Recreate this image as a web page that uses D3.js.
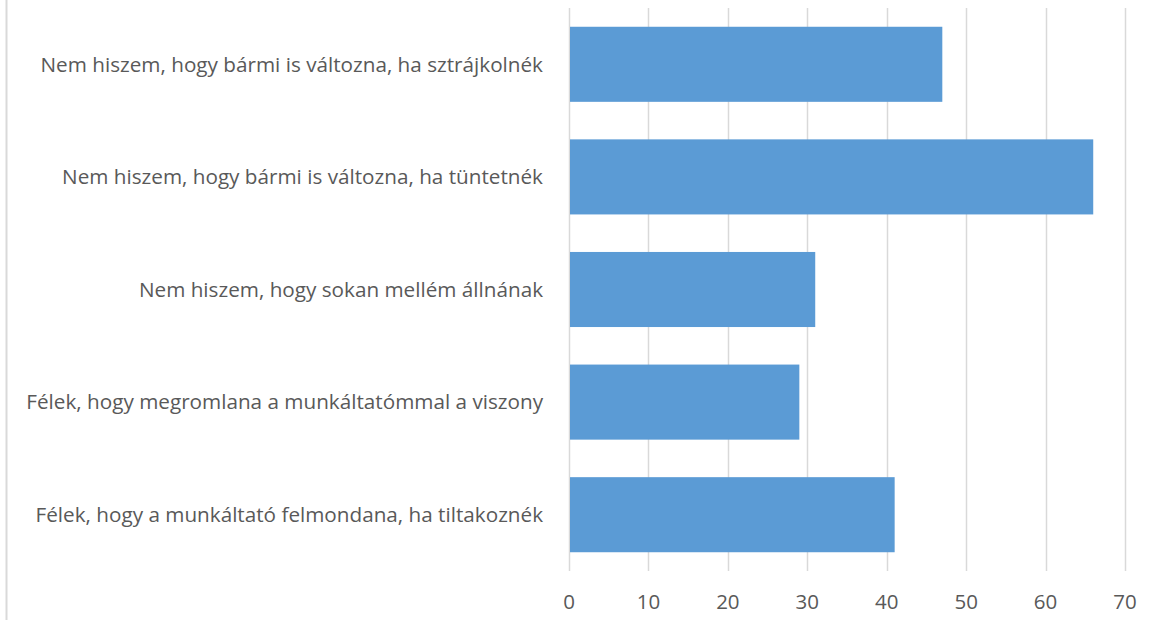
<!DOCTYPE html>
<html>
<head>
<meta charset="utf-8">
<script src="https://cdn.jsdelivr.net/npm/d3@7"></script>
<style>
  body { margin: 0; background: #fff; }
  svg text { font-family: "Open Sans", "Noto Sans", sans-serif; fill: #595959; }
</style>
</head>
<body>
<svg id="chart" width="1163" height="630"></svg>
<script>
// categories, top to bottom
const categories = [
  'Nem hiszem, hogy bármi is változna, ha sztrájkolnék',
  'Nem hiszem, hogy bármi is változna, ha tüntetnék',
  'Nem hiszem, hogy sokan mellém állnának',
  'Félek, hogy megromlana a munkáltatómmal a viszony',
  'Félek, hogy a munkáltató felmondana, ha tiltakoznék'
];
const values = [47, 66, 31, 29, 41];
const xTicks = [0, 10, 20, 30, 40, 50, 60, 70];

const svg = d3.select('#chart');
const margin = {top: 8, right: 38, bottom: 59, left: 569};
const W = 1163, H = 630;

const x = d3.scaleLinear().domain([0, 70]).range([margin.left, W - margin.right]);
const y = d3.scaleBand().domain(categories)
    .range([margin.top, H - margin.bottom])
    .paddingInner(1 / 3).paddingOuter(1 / 6);

// outer frame (only the left edge shows)
svg.append('line')
    .attr('x1', 6.5).attr('x2', 6.5).attr('y1', 0).attr('y2', 620)
    .attr('stroke', '#d9d9d9').attr('stroke-width', 2);

// gridlines
svg.append('g')
    .selectAll('line')
    .data(xTicks)
    .join('line')
    .attr('x1', d => Math.round(x(d)) + 0.5)
    .attr('x2', d => Math.round(x(d)) + 0.5)
    .attr('y1', margin.top)
    .attr('y2', H - margin.bottom)
    .attr('stroke', '#d9d9d9')
    .attr('stroke-width', 1.5);

// bars
svg.append('g')
    .selectAll('rect')
    .data(values)
    .join('rect')
    .attr('x', x(0) + 1)
    .attr('y', (d, i) => y(categories[i]))
    .attr('width', d => x(d) - x(0) - 1)
    .attr('height', y.bandwidth())
    .attr('fill', '#5b9bd5');

// category labels
svg.append('g')
    .selectAll('text')
    .data(categories)
    .join('text')
    .attr('x', margin.left - 26)
    .attr('y', d => y(d) + y.bandwidth() / 2)
    .attr('dy', '0.35em')
    .attr('text-anchor', 'end')
    .attr('font-size', 20.7)
    .text(d => d);

// x tick labels
svg.append('g')
    .selectAll('text')
    .data(xTicks)
    .join('text')
    .attr('x', d => x(d))
    .attr('y', 602)
    .attr('dy', '0.35em')
    .attr('text-anchor', 'middle')
    .attr('font-size', 20.5)
    .text(d => d);
</script>
</body>
</html>
